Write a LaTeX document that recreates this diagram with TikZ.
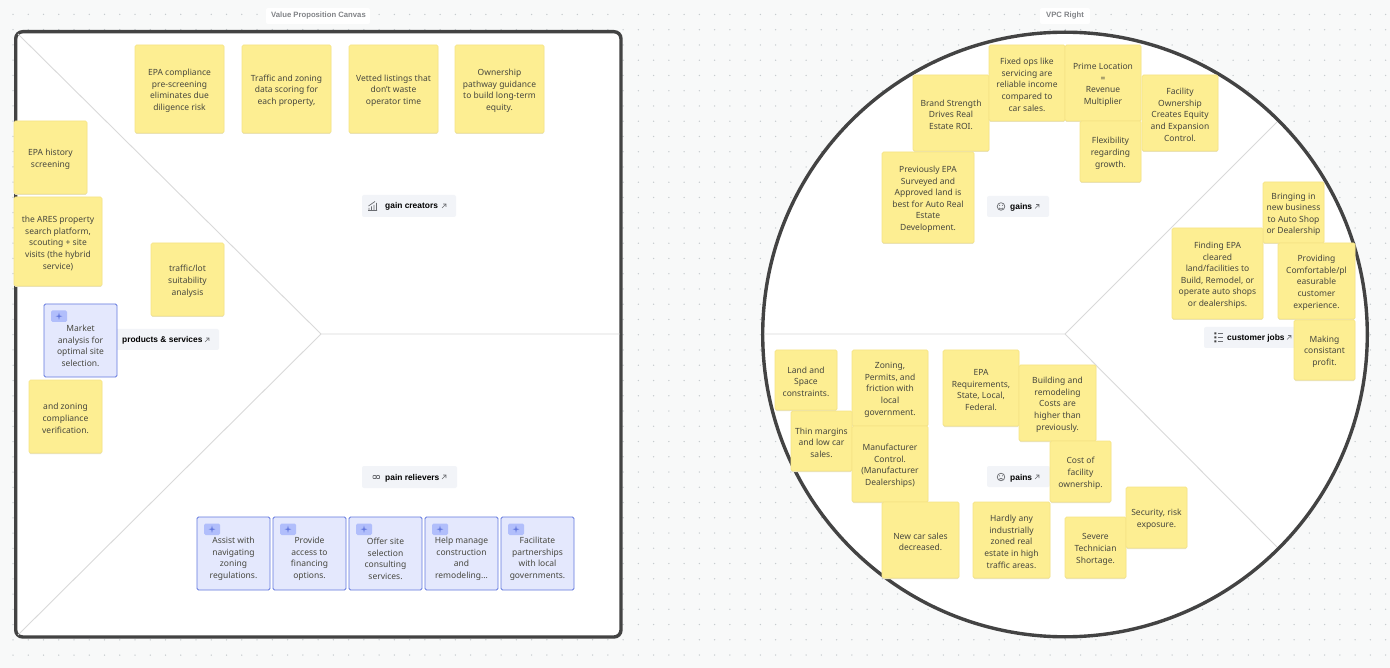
\documentclass[tikz,border=0pt]{standalone}
\usepackage{fontspec}
\setmainfont{Noto Sans}
\newfontfamily\chipfont{Liberation Sans}
\usetikzlibrary{shadows}
\definecolor{bgc}{HTML}{F8F9F9}
\definecolor{dotc}{HTML}{C6CBCE}
\definecolor{framec}{HTML}{434343}
\definecolor{linec}{HTML}{D9D9D9}
\definecolor{notef}{HTML}{FDEE92}
\definecolor{noted}{HTML}{F6E486}
\definecolor{noteshadow}{HTML}{E4E2CF}
\definecolor{bluef}{HTML}{E4E8FD}
\definecolor{blued}{HTML}{6378DE}
\definecolor{bluetag}{HTML}{B1BEFB}
\definecolor{chipf}{HTML}{F2F4F8}
\definecolor{textc}{HTML}{47473E}
\definecolor{iconc}{HTML}{6B6D72}
\tikzset{
  frameline/.style={draw=framec,line width=3.4pt},
  sepline/.style={draw=linec,line width=0.9pt},
  basebox/.style={rectangle,rounded corners=1.5pt,inner sep=1pt,align=center,text=textc,
    font=\fontsize{8.5}{11.6}\selectfont},
  notebox/.style={basebox,fill=notef,draw=noted,line width=0.7pt,
    copy shadow={shadow xshift=0pt,shadow yshift=-1pt,fill=noteshadow,draw=none,opacity=1}},
  bluebox/.style={basebox,fill=bluef,draw=blued,line width=0.9pt},
  chipbox/.style={rectangle,rounded corners=2pt,fill=chipf,inner sep=0pt},
  chiptext/.style={inner sep=0pt,anchor=base west,text=black,font=\chipfont\fontsize{8.4}{10}\selectfont\bfseries},
  titletext/.style={inner sep=0pt,text=iconc!85!white,font=\chipfont\fontsize{7.7}{9}\selectfont\bfseries},
  iconline/.style={draw=iconc,line width=0.7pt},
}
\newcommand{\notepaper}[6]{\node[notebox,minimum width={(#4-#2)*1pt},minimum height={(#5-#3)*1pt}] (#1) at ({(#2+#4)/2},{(#3+#5)/2}) {\mbox{}\\[-1.6pt]#6};}
\newcommand{\bluepaper}[6]{\node[bluebox,minimum width={(#4-#2)*1pt},minimum height={(#5-#3)*1pt}] (#1) at ({(#2+#4)/2},{(#3+#5)/2}) {\mbox{}\\[5.4pt]#6};
  \fill[bluetag,rounded corners=1.5pt] (#2+7,#3+6.5) rectangle (#2+23,#3+18);
  \fill[blued] (#2+15,#3+8.6) -- (#2+15.7,#3+11.5) -- (#2+18.4,#3+12.2) -- (#2+15.7,#3+12.9) -- (#2+15,#3+15.8) -- (#2+14.3,#3+12.9) -- (#2+11.6,#3+12.2) -- (#2+14.3,#3+11.5) -- cycle;}
\newcommand{\chipbase}[5]{\node[chipbox,minimum width={(#4-#2)*1pt},minimum height={(#5-#3)*1pt}] (#1) at ({(#2+#4)/2},{(#3+#5)/2}) {};}
\newcommand{\outarrow}[2]{\draw[draw=iconc,line width=0.6pt] (#1-2,#2+2) -- (#1+2,#2-2) (#1-1,#2-2) -- (#1+2,#2-2) -- (#1+2,#2+1);}
\begin{document}
\begin{tikzpicture}[x=1pt,y=-1pt]
\useasboundingbox (0,0) rectangle (1390,668);
\fill[bgc] (0,0) rectangle (1390,668);
% dot grid
\foreach \i in {0,...,90}{\foreach \j in {0,...,43}{\fill[dotc] ({13+15.25*\i},{14.5+15.25*\j}) circle (0.75pt);}}
% left canvas
\draw[frameline,fill=white,rounded corners=7pt] (15.7,31.7) rectangle (621,637);
\coordinate (lc) at (321,334);
\coordinate (ltl) at (18,34);
\coordinate (lbl) at (18,635);
\coordinate (lr) at (619.5,334);
\draw[sepline] (ltl) -- (lc) -- (lbl) (lc) -- (lr);
% right canvas
\draw[frameline,fill=white] (1065,334.5) circle (302.3pt);
\coordinate (rc) at (1065,334);
\coordinate (rl) at (764,334);
\coordinate (rtr) at (1277,122);
\coordinate (rbr) at (1277,547);
\draw[sepline] (rl) -- (rc) (rtr) -- (rc) -- (rbr);
% titles
\fill[white,rounded corners=2pt] (266,8) rectangle (370,24);
\node[titletext] (ttitlea) at (318.5,16) {Value Proposition Canvas};
\fill[white,rounded corners=2pt] (1040,8) rectangle (1090,24);
\node[titletext] (ttitleb) at (1065,16) {VPC Right};
% chips
\chipbase{cgc}{362}{195}{456}{217}
\node[chiptext] (tgc) at (385,209) {gain creators};
\outarrow{444}{206}
\draw[iconline] (368,210.5) -- (377,210.5) (369,210) -- (369,208) (371.5,210) -- (371.5,206.5) (374,210) -- (374,205) (376.5,210) -- (376.5,203) (368.5,206) -- (375,201.5);
\chipbase{cps}{105}{329}{219}{350}
\node[chiptext] (tps) at (122,343) {products \& services};
\outarrow{207}{340}
\chipbase{cpr}{362}{466}{457}{488}
\node[chiptext] (tpr) at (385,480.5) {pain relievers};
\outarrow{444}{477}
\draw[iconline,rounded corners=1.5pt] (372,477) -- (374.5,474.5) -- (377,477) -- (374.5,479.5) -- cycle;
\draw[iconline,rounded corners=1.5pt] (375.5,477) -- (378,474.5) -- (380.5,477) -- (378,479.5) -- cycle;
\chipbase{cga}{987}{196}{1049}{217}
\node[chiptext] (tga) at (1010,210) {gains};
\outarrow{1037}{206.5}
\draw[iconline] (1001,206.5) circle (3.8pt);
\draw[iconline] (999,208) .. controls (1000,209.4) and (1002,209.4) .. (1003,208);
\fill[iconc] (999.6,205.3) circle (0.6pt) (1002.4,205.3) circle (0.6pt);
\chipbase{ccj}{1204}{327}{1296}{348}
\node[chiptext] (tcj) at (1227,341) {customer jobs};
\outarrow{1289}{337.5}
\draw[iconline] (1218,333.5) -- (1222.5,333.5) (1218,337.5) -- (1222.5,337.5) (1218,341.5) -- (1222.5,341.5);
\fill[framec] (1214.3,332.5) rectangle (1216.3,334.5) (1214.3,336.5) rectangle (1216.3,338.5) (1214.3,340.5) rectangle (1216.3,342.5);
\chipbase{cpa}{987}{466}{1050}{487}
\node[chiptext] (tpa) at (1010,480) {pains};
\outarrow{1037}{477}
\draw[iconline] (1001,477) circle (3.8pt);
\draw[iconline] (999,479.4) .. controls (1000,478) and (1002,478) .. (1003,479.4);
\fill[iconc] (999.6,475.8) circle (0.6pt) (1002.4,475.8) circle (0.6pt);
% left stickies
\notepaper{la}{135}{45}{224}{133}{EPA compliance\\pre-screening\\eliminates due\\diligence risk}
\notepaper{lb}{242}{45}{331}{133}{Traffic and zoning\\data scoring for\\each property,}
\notepaper{lc2}{349}{45}{438}{133}{Vetted listings that\\don't waste\\operator time}
\notepaper{ld}{455}{45}{544}{133}{Ownership\\pathway guidance\\to build long-term\\equity.}
\notepaper{le}{14}{121}{87}{194}{EPA history\\screening}
\notepaper{lf}{14}{197}{102}{286}{the ARES property\\search platform,\\scouting + site\\visits (the hybrid\\service)}
\notepaper{lg}{151}{243}{224}{316}{traffic/lot\\suitability\\analysis}
\bluepaper{lh}{44}{304}{117}{377}{Market\\analysis for\\optimal site\\selection.}
\notepaper{li}{29}{380}{102}{453}{and zoning\\compliance\\verification.}
\bluepaper{lj}{197}{517}{270}{590}{Assist with\\navigating\\zoning\\regulations.}
\bluepaper{lk}{273}{517}{346}{590}{Provide\\access to\\financing\\options.}
\bluepaper{ll}{349}{517}{422}{590}{Offer site\\selection\\consulting\\services.}
\bluepaper{lm}{425}{517}{498}{590}{Help manage\\construction\\and\\remodeling...}
\bluepaper{ln}{501}{517}{574}{590}{Facilitate\\partnerships\\with local\\governments.}
% right stickies: gains
\notepaper{ra}{913}{75}{989}{151}{Brand Strength\\Drives Real\\Estate ROI.}
\notepaper{rb}{989}{45}{1065}{121}{Fixed ops like\\servicing are\\reliable income\\compared to\\car sales.}
\notepaper{rc2}{1065}{45}{1141}{121}{Prime Location\\=\\Revenue\\Multiplier}
\notepaper{rd}{1080}{121}{1141}{182}{Flexibility\\regarding\\growth.}
\notepaper{re}{1142}{75}{1218}{151}{Facility\\Ownership\\Creates Equity\\and Expansion\\Control.}
\notepaper{rf}{882}{152}{974}{243}{Previously EPA\\Surveyed and\\Approved land is\\best for Auto Real\\Estate\\Development.}
% customer jobs
\notepaper{rg}{1263}{182}{1324}{243}{Bringing in\\new business\\to Auto Shop\\or Dealership}
\notepaper{rh}{1172}{228}{1263}{319}{Finding EPA\\cleared\\land/facilities to\\Build, Remodel, or\\operate auto shops\\or dealerships.}
\notepaper{ri}{1278}{243}{1355}{319}{Providing\\Comfortable/pl\\easurable\\customer\\experience.}
\notepaper{rj}{1294}{320}{1355}{380}{Making\\consistant\\profit.}
% pains
\notepaper{rk}{775}{350}{837}{410}{Land and\\Space\\constraints.}
\notepaper{rl2}{852}{350}{928}{426}{Zoning,\\Permits, and\\friction with\\local\\government.}
\notepaper{rm}{791}{411}{852}{471}{Thin margins\\and low car\\sales.}
\notepaper{rn}{852}{426}{928}{502}{Manufacturer\\Control.\\(Manufacturer\\Dealerships)}
\notepaper{ro}{882}{502}{959}{578}{New car sales\\decreased.}
\notepaper{rp}{943}{350}{1019}{426}{EPA\\Requirements,\\State, Local,\\Federal.}
\notepaper{rq}{1019}{365}{1096}{441}{Building and\\remodeling\\Costs are\\higher than\\previously.}
\notepaper{rr}{1050}{441}{1111}{502}{Cost of\\facility\\ownership.}
\notepaper{rs}{973}{502}{1050}{578}{Hardly any\\industrially\\zoned real\\estate in high\\traffic areas.}
\notepaper{rt}{1065}{517}{1126}{578}{Severe\\Technician\\Shortage.}
\notepaper{ru}{1126}{487}{1187}{548}{Security, risk\\exposure.}
\end{tikzpicture}
\end{document}
